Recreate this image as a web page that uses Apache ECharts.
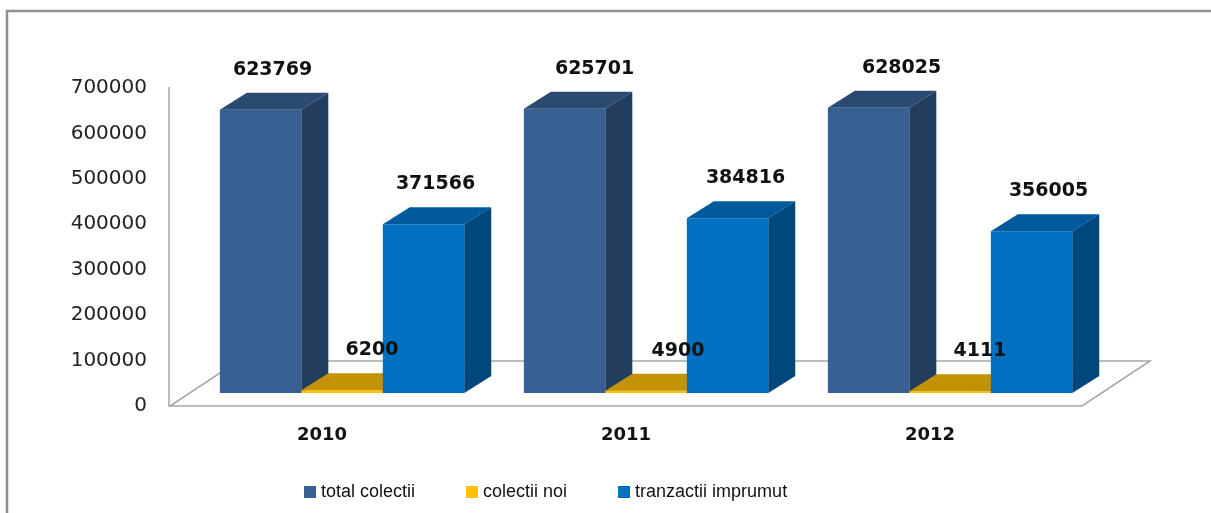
<!DOCTYPE html>
<html>
<head>
<meta charset="utf-8">
<script src="https://cdn.jsdelivr.net/npm/echarts@6/dist/echarts.min.js"></script>
<style>
	html, body { margin: 0; padding: 0; background: #fff; }
	#chart { width: 1211px; height: 513px; }
</style>
</head>
<body>
<div id="chart"></div>
<script>
	/** 数据 */
	var years = ['2010', '2011', '2012'];
	var totalColectii = [623769, 625701, 628025];
	var colectiiNoi = [6200, 4900, 4111];
	var tranzactiiImprumut = [371566, 384816, 356005];
	var seriesNames = ['total colectii', 'colectii noi', 'tranzactii imprumut'];
	var yTicks = [0, 100000, 200000, 300000, 400000, 500000, 600000, 700000];

	// 立体柱颜色: 正面 / 顶面 / 侧面
	var faceColors = [
		['#375F91', '#2B4A72', '#233D5E'],
		['#FFC000', '#C39200', '#A07800'],
		['#0070C0', '#005A9C', '#00477E']
	];
	// 数据标签水平偏移(像素)
	var labelShift = [
		[12, 30, 33],
		[30, 32, 30],
		[12, 18, 17]
	];

	var DX = 27, DY = -17;          // 柱体深度
	var FLOOR_DX = 68, FLOOR_DY = -45; // 底面深度
	var LIFT = 13;                  // 柱体离底面前沿的高度

	function barRender(k) {
		return function(params, api) {
			var idx = api.value(0), val = api.value(1);
			var base = api.coord([idx, 0]);
			var top = api.coord([idx, val]);
			var band = api.size([1, 0])[0];
			var w = band * 0.268;
			var x0 = base[0] - 1.5 * w + band * 0.066 + k * w;
			var x1 = x0 + w;
			var yb = base[1] - LIFT, yt = top[1] - LIFT;
			var c = faceColors[k];
			return {
				type: 'group',
				children: [{
					type: 'polygon',
					shape: { points: [[x0, yb], [x0, yt], [x1, yt], [x1, yb]] },
					style: { fill: c[0] }
				}, {
					type: 'polygon',
					shape: { points: [[x0, yt], [x0 + DX, yt + DY], [x1 + DX, yt + DY], [x1, yt]] },
					style: { fill: c[1] }
				}, {
					type: 'polygon',
					shape: { points: [[x1, yt], [x1 + DX, yt + DY], [x1 + DX, yb + DY], [x1, yb]] },
					style: { fill: c[2] }
				}, {
					type: 'text',
					z2: 100,
					style: {
						x: (x0 + x1) / 2 + labelShift[k][idx],
						y: yt - 40,
						text: String(val),
						align: 'center',
						verticalAlign: 'middle',
						fill: '#111',
						font: 'bold 19px "DejaVu Sans"'
					}
				}]
			};
		};
	}

	function floorRender(params, api) {
		var cs = params.coordSys;
		var yf = cs.y + cs.height;
		var xl = cs.x, xr = cs.x + cs.width;
		return {
			type: 'group',
			children: [{
				type: 'polygon',
				shape: { points: [[xl, yf], [xr, yf], [xr + FLOOR_DX, yf + FLOOR_DY], [xl + FLOOR_DX, yf + FLOOR_DY]] },
				style: { fill: '#fff', stroke: '#a6a6a6', lineWidth: 1.5 }
			}, {
				type: 'line',
				shape: { x1: xl - 1, y1: cs.y - 1, x2: xl - 1, y2: yf },
				style: { stroke: '#a6a6a6', lineWidth: 1.5 }
			}]
		};
	}

	var datasets = [totalColectii, colectiiNoi, tranzactiiImprumut];
	var series = [{
		name: 'floor',
		type: 'custom',
		silent: true,
		clip: false,
		z: 1,
		renderItem: floorRender,
		data: [[0, 0]]
	}];
	datasets.forEach(function(vals, k) {
		series.push({
			name: seriesNames[k],
			type: 'custom',
			clip: false,
			z: 2,
			itemStyle: { color: faceColors[k][0] },
			renderItem: barRender(k),
			encode: { x: 0, y: 1 },
			data: years.map(function(y, i) { return [i, vals[i]]; })
		});
	});

	var myChart = echarts.init(document.getElementById('chart'));
	var option = {
		animation: false,
		backgroundColor: '#fff',
		graphic: [{
			type: 'rect',
			shape: { x: 7, y: 11, width: 1300, height: 600 },
			style: { fill: 'none', stroke: '#8f8f8f', lineWidth: 2.5 },
			silent: true
		}],
		grid: {
			left: 170, right: 129, top: 88, bottom: 107
		},
		xAxis: {
			type: 'category',
			data: years,
			axisLine: { show: false },
			axisTick: { show: false },
			splitLine: { show: false },
			axisLabel: {
				margin: 20,
				color: '#111',
				fontFamily: 'DejaVu Sans',
				fontWeight: 'bold',
				fontSize: 18
			}
		},
		yAxis: {
			type: 'value',
			min: yTicks[0],
			max: yTicks[yTicks.length - 1],
			interval: 100000,
			axisLine: { show: false },
			axisTick: { show: false },
			splitLine: { show: false },
			axisLabel: {
				margin: 23,
				color: '#222',
				fontFamily: 'DejaVu Sans',
				fontSize: 20,
				formatter: function(v) { return String(v); }
			}
		},
		legend: {
			data: seriesNames,
			left: 299,
			top: 478,
			icon: 'rect',
			itemWidth: 12,
			itemHeight: 12,
			itemGap: 51,
			textStyle: {
				color: '#111',
				fontFamily: 'Liberation Sans',
				fontSize: 18
			}
		},
		series: series
	};
	myChart.setOption(option);
</script>
</body>
</html>
